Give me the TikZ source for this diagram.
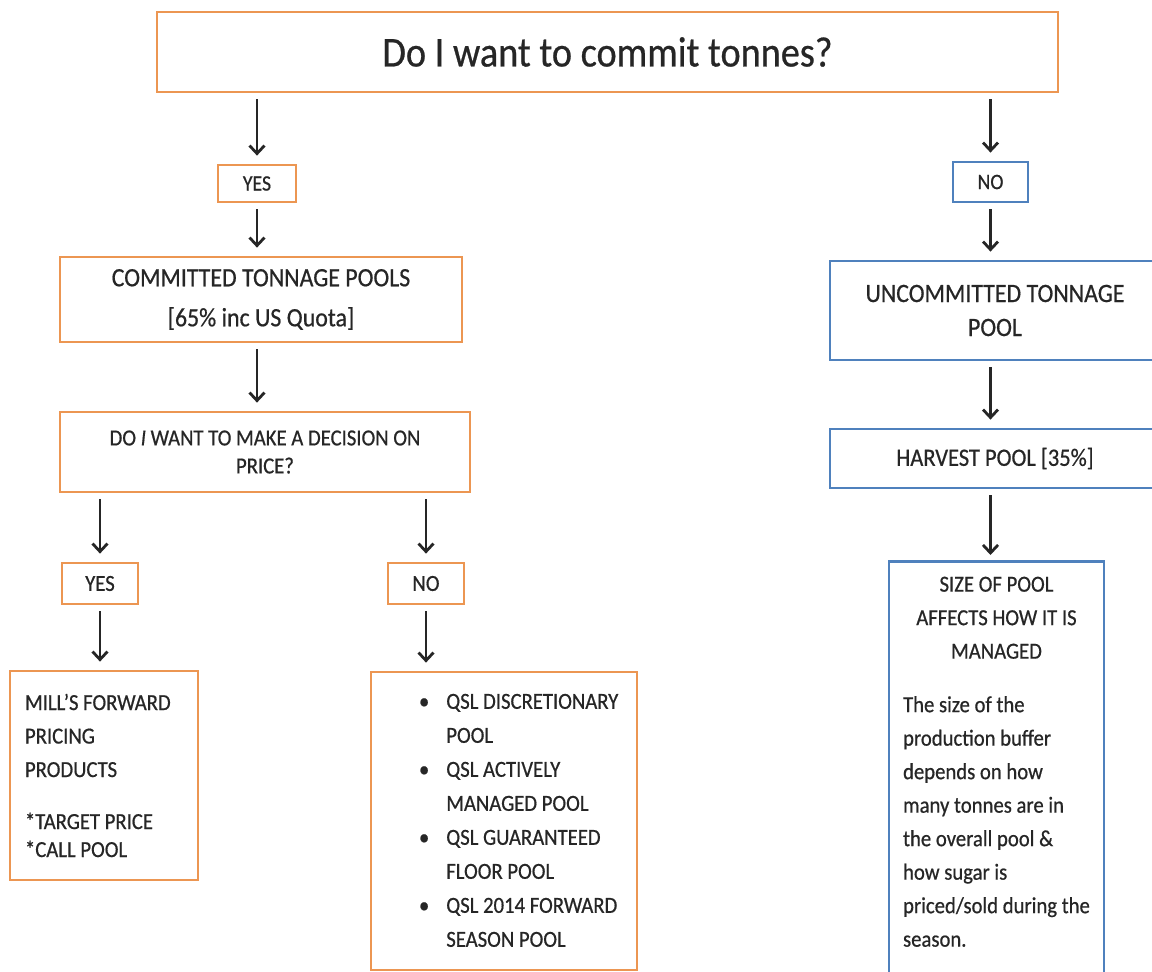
\documentclass[tikz,border=0pt]{standalone}
\usepackage{fontspec}
\setmainfont{Carlito}[FakeStretch=0.9,FakeBold=0.6]
\usetikzlibrary{arrows.meta}
\definecolor{org}{RGB}{236,150,82}
\definecolor{blu}{RGB}{79,129,189}
\definecolor{ink}{RGB}{38,38,38}
\begin{document}
\begin{tikzpicture}[x=1pt,y=-1pt,
  ob/.style={draw=org,line width=2.8pt,fill=white,text=ink,inner sep=0pt},
  bb/.style={draw=blu,line width=2.8pt,fill=white,text=ink,inner sep=0pt},
  arr/.style={draw=ink,line width=2.8pt,-{Straight Barb[length=8pt,width=15pt]},shorten <=6pt,shorten >=8pt},
  fa/.style={font=\fontsize{23}{28}\selectfont},
  fs/.style={font=\fontsize{22}{24}\selectfont}]
\useasboundingbox (0,0) rectangle (1152,972);
\fill[white] (0,0) rectangle (1152,972);

% left branch
\node[ob,minimum width=901,minimum height=80,font=\fontsize{42.5}{46}\selectfont] (top) at (607.5,52) {Do I want to commit tonnes?};
\node[ob,fs,minimum width=78,minimum height=37] (yes1) at (257,183.5) {YES};
\node[ob,minimum width=402,minimum height=85,align=center,font=\fontsize{26.5}{40}\selectfont] (com) at (261,299.5) {COMMITTED TONNAGE POOLS\\ {[}65\% inc US Quota{]}};
\node[ob,fa,minimum width=410,minimum height=80,align=center] (dec) at (265,452) {DO \textit{I} WANT TO MAKE A DECISION ON\\PRICE?};
\node[ob,fa,minimum width=76,minimum height=41] (yes2) at (100,583.5) {YES};
\node[ob,fa,minimum width=76,minimum height=41] (no2) at (426,583.5) {NO};
\node[ob,minimum width=188,minimum height=209,text width=158,align=flush left,font=\fontsize{23}{33.5}\selectfont] (mill) at (104,775.5)
  {MILL’S FORWARD\\PRICING\\PRODUCTS\\[18.5pt]*TARGET PRICE\\[-5.5pt]*CALL POOL};
\node[ob,minimum width=266,minimum height=298,text width=246,align=flush left,font=\fontsize{23}{34}\selectfont] (qsl) at (504,821)
  {\hspace*{38pt}\begin{tabular}{@{}l@{\hspace{17pt}}l@{}}
   \textbullet & QSL DISCRETIONARY\\
               & POOL\\
   \textbullet & QSL ACTIVELY\\
               & MANAGED POOL\\
   \textbullet & QSL GUARANTEED\\
               & FLOOR POOL\\
   \textbullet & QSL 2014 FORWARD\\
               & SEASON POOL
   \end{tabular}};

% right branch
\node[bb,fs,minimum width=75,minimum height=40] (no1) at (990.5,182) {NO};
\node[bb,minimum width=330,minimum height=99,align=center,font=\fontsize{26.5}{34}\selectfont] (unc) at (995,310.5) {UNCOMMITTED TONNAGE\\POOL};
\node[bb,minimum width=330,minimum height=59,font=\fontsize{25}{28}\selectfont] (har) at (995,458.5) {HARVEST POOL [35\%]};
\node[bb,minimum width=215,minimum height=440,anchor=north] (size) at (996.5,560) {};
\node[anchor=north,inner sep=0pt,text=ink,font=\fontsize{23}{33.5}\selectfont] (sizet) at ([yshift=-8pt]size.north)
  {\begin{tabular}{@{}l@{}}
   \multicolumn{1}{@{}c@{}}{SIZE OF POOL}\\
   \multicolumn{1}{@{}c@{}}{AFFECTS HOW IT IS}\\
   \multicolumn{1}{@{}c@{}}{MANAGED}\\[20pt]
   The size of the\\
   production buffer\\
   depends on how\\
   many tonnes are in\\
   the overall pool \&\\
   how sugar is\\
   priced/sold during the\\
   season.
   \end{tabular}};

% connectors
\draw[arr] (top.south -| yes1.north) -- (yes1.north);
\draw[arr] (yes1.south) -- (yes1.south |- com.north);
\draw[arr] (com.south -| yes1.south) -- (dec.north -| yes1.south);
\draw[arr] (dec.south -| yes2.north) -- (yes2.north);
\draw[arr] (dec.south -| no2.north) -- (no2.north);
\draw[arr] (yes2.south) -- (yes2.south |- mill.north);
\draw[arr] (no2.south) -- (no2.south |- qsl.north);
\draw[arr] (top.south -| no1.north) -- (no1.north);
\draw[arr] (no1.south) -- (no1.south |- unc.north);
\draw[arr] (unc.south -| no1.south) -- (har.north -| no1.south);
\draw[arr,shorten >=5pt] (har.south -| no1.south) -- (size.north -| no1.south);
\end{tikzpicture}
\end{document}
